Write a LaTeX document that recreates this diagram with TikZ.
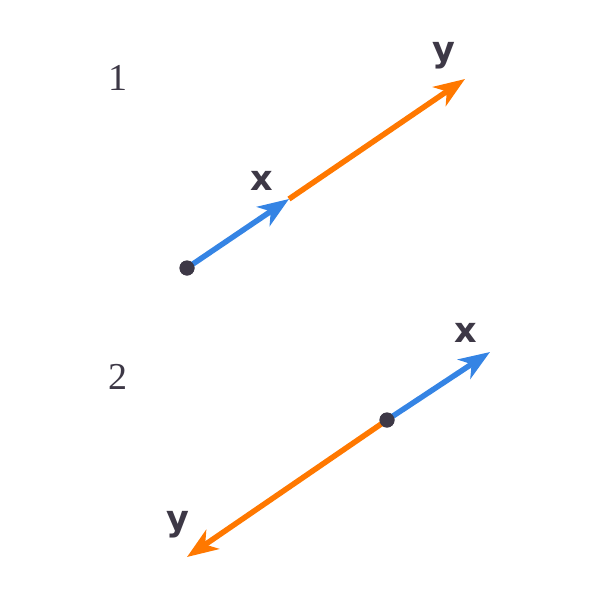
\documentclass[tikz,border=0pt]{standalone}
\usepackage{fontspec}
\setmainfont{Liberation Serif}
\newfontfamily\labfont{DejaVu Sans}
\usetikzlibrary{arrows.meta}
\definecolor{cx}{RGB}{53,132,228}
\definecolor{cy}{RGB}{255,120,0}
\definecolor{cdark}{RGB}{61,56,70}

\begin{document}
\begin{tikzpicture}[
  x=1pt,y=-1pt,
  dot/.style={circle,fill=cdark,minimum size=15pt,inner sep=0},
  num/.style={text=cdark,font=\fontsize{38}{40}\selectfont,inner sep=0},
  lab/.style={text=cdark,font=\labfont\bfseries\fontsize{35}{36}\selectfont,inner sep=0},
  vec/.style={line width=5.5pt,-{Stealth[length=31pt 0 0,width=23pt 0,inset=9pt 0]}},
]
\useasboundingbox (0,0) rectangle (600,600);

% Panel 1
\node[num] (n1) at (118,78) {1};
\node[dot] (o1) at (187,268) {};
\coordinate (x1) at (289,199);
\coordinate (y1) at (465,79);
\draw[vec,cy] (x1) -- (y1);
\draw[vec,cx] (o1.center) -- (x1);
\node[dot] at (o1) {};
\node[lab] (lx1) at (262,181) {x};
\node[lab] (ly1) at (444,56) {y};

% Panel 2
\node[num] (n2) at (118,377) {2};
\node[dot] (o2) at (387,420) {};
\coordinate (x2) at (490,352);
\coordinate (y2) at (187,557);
\draw[vec,cy] (o2.center) -- (y2);
\draw[vec,cx] (o2.center) -- (x2);
\node[dot] at (o2) {};
\node[lab] (lx2) at (466,333) {x};
\node[lab] (ly2) at (178,525) {y};
\end{tikzpicture}
\end{document}
